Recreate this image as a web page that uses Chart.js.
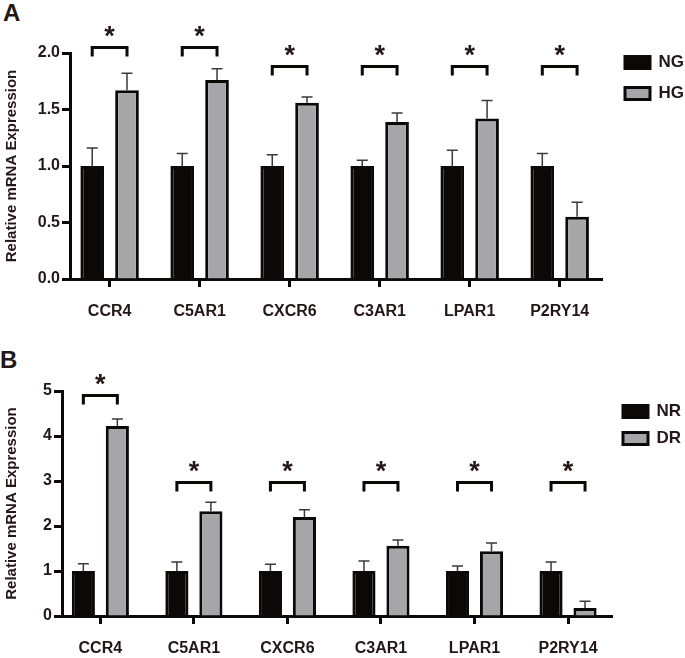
<!DOCTYPE html>
<html>
<head>
<meta charset="utf-8">
<script src="https://cdn.jsdelivr.net/npm/chart.js@4.4.1/dist/chart.umd.min.js"></script>
<style>
  body { margin: 0; background: #fff; }
  #wrap { position: relative; width: 685px; height: 658px; }
  canvas { position: absolute; left: 0; }
  .panel { position: absolute; font: bold 24px 'Liberation Sans', Arial, sans-serif; color: #231815; }
</style>
</head>
<body>
<div id="wrap">
  <div class="panel" style="left:3px;top:-1px;">A</div>
  <div class="panel" style="left:0px;top:346px;">B</div>
  <canvas id="chartA" width="685" height="325" style="top:0"></canvas>
  <canvas id="chartB" width="685" height="333" style="top:325px"></canvas>
</div>
<script>
// data
var genes = ['CCR4', 'C5AR1', 'CXCR6', 'C3AR1', 'LPAR1', 'P2RY14'];

var ngMean = [1, 1, 1, 1, 1, 1];
var ngErr = [0.16, 0.11, 0.10, 0.05, 0.14, 0.11];
var hgMean = [1.67, 1.76, 1.56, 1.39, 1.42, 0.55];
var hgErr = [0.15, 0.10, 0.05, 0.08, 0.16, 0.13];
var sigA = [2.05, 2.05, 1.885, 1.885, 1.885, 1.885];
var yTicksA = [0, 0.5, 1.0, 1.5, 2.0];

var nrMean = [1, 1, 1, 1, 1, 1];
var nrErr = [0.16, 0.20, 0.15, 0.22, 0.11, 0.20];
var drMean = [4.22, 2.33, 2.20, 1.56, 1.44, 0.18];
var drErr = [0.16, 0.20, 0.16, 0.13, 0.18, 0.15];
var sigB = [4.91, 2.98, 2.98, 2.98, 2.98, 2.98];
var yTicksB = [0, 1, 2, 3, 4, 5];

var ink = '#231815';
var barBlack = '#0d0808';
var barGray = '#a6a6aa';
var sans = "'Liberation Sans', Arial, sans-serif";

function pts(vals) {
    return vals.map(function(v, i) { return {x: i, y: v}; });
}

// error bars (upward only), significance brackets, legend placement
var extrasPlugin = {
    id: 'extras',
    afterLayout: function(chart) {
        var o = chart.options.plugins.extras;
        var lg = chart.legend;
        var pad = chart.options.plugins.legend.labels.padding;
        var dx = o.legendX - (lg.left + pad);
        var dy = o.legendY - (lg.top + pad);
        lg.left += dx; lg.right += dx;
        lg.top += dy; lg.bottom += dy;
    },
    afterDatasetsDraw: function(chart) {
        var o = chart.options.plugins.extras;
        var ctx = chart.ctx;
        var y = chart.scales.y;
        ctx.save();
        ctx.strokeStyle = '#3a3a3a';
        ctx.lineWidth = 1.5;
        chart.data.datasets.forEach(function(ds, di) {
            var meta = chart.getDatasetMeta(di);
            meta.data.forEach(function(bar, i) {
                var v = ds.data[i].y;
                var top = y.getPixelForValue(v + ds.err[i]);
                ctx.beginPath();
                ctx.moveTo(bar.x, bar.y);
                ctx.lineTo(bar.x, top);
                ctx.moveTo(bar.x - 5.5, top);
                ctx.lineTo(bar.x + 5.5, top);
                ctx.stroke();
            });
        });
        var m0 = chart.getDatasetMeta(0), m1 = chart.getDatasetMeta(1);
        ctx.strokeStyle = barBlack;
        ctx.lineWidth = 3;
        ctx.fillStyle = ink;
        ctx.font = 'bold 27px ' + sans;
        ctx.textAlign = 'center';
        ctx.textBaseline = 'middle';
        o.sig.forEach(function(s, i) {
            var x0 = m0.data[i].x, x1 = m1.data[i].x;
            var py = Math.round(y.getPixelForValue(s)) + 0.5;
            ctx.beginPath();
            ctx.moveTo(x0, py + 9);
            ctx.lineTo(x0, py);
            ctx.lineTo(x1, py);
            ctx.lineTo(x1, py + 9);
            ctx.stroke();
            ctx.fillText('*', (x0 + x1) / 2, py - 10);
        });
        ctx.restore();
    }
};

function makeChart(id, names, meanA, errA, meanB, errB, sig, yTicks, yMax, fmt, xMin, xMax, cfg) {
    var ctx = document.getElementById(id).getContext('2d');
    return new Chart(ctx, {
        type: 'bar',
        data: {
            datasets: [{
                label: names[0],
                data: pts(meanA),
                err: errA,
                backgroundColor: barBlack,
                borderColor: barBlack,
                borderWidth: 3
            }, {
                label: names[1],
                data: pts(meanB),
                err: errB,
                backgroundColor: barGray,
                borderColor: barBlack,
                borderWidth: 3
            }]
        },
        options: {
            responsive: false,
            animation: false,
            categoryPercentage: cfg.cat,
            barPercentage: cfg.bar,
            layout: { padding: { top: cfg.top, right: 0, left: 0, bottom: 0 } },
            plugins: {
                tooltip: { enabled: false },
                legend: {
                    position: 'right',
                    align: 'start',
                    maxWidth: cfg.legendW,
                    labels: {
                        boxWidth: 25,
                        boxHeight: 12,
                        padding: cfg.legendGap,
                        color: ink,
                        font: { family: sans, size: 17, weight: 'bold' }
                    }
                },
                extras: { sig: sig, legendX: cfg.legendX, legendY: cfg.legendY }
            },
            scales: {
                x: {
                    type: 'linear',
                    min: xMin,
                    max: xMax,
                    offset: false,
                    afterFit: function(s) { s.height = cfg.xh; },
                    afterBuildTicks: function(s) {
                        s.ticks = genes.map(function(g, i) { return {value: i}; });
                    },
                    border: { width: 3, color: barBlack },
                    grid: { offset: false, drawOnChartArea: false, drawTicks: true, tickLength: 8, tickWidth: 3, tickColor: barBlack },
                    ticks: {
                        padding: 15,
                        color: ink,
                        font: { family: sans, size: 16, weight: 'bold' },
                        maxRotation: 0,
                        autoSkip: false,
                        callback: function(v) { return genes[v]; }
                    }
                },
                y: {
                    min: 0,
                    max: yMax,
                    afterFit: function(s) { s.width = cfg.yw; },
                    afterBuildTicks: function(s) {
                        s.ticks = yTicks.map(function(v) { return {value: v}; });
                    },
                    border: { width: 3, color: barBlack },
                    grid: { drawOnChartArea: false, drawTicks: true, tickLength: 8, tickWidth: 3, tickColor: barBlack },
                    ticks: {
                        padding: 2,
                        color: ink,
                        font: { family: sans, size: 16, weight: 'bold' },
                        callback: function(v) { return fmt(v); }
                    },
                    title: {
                        display: true,
                        text: 'Relative mRNA Expression',
                        color: ink,
                        padding: { top: 3, bottom: 0 },
                        font: { family: sans, size: 15, weight: 'bold' }
                    }
                }
            }
        },
        plugins: [extrasPlugin]
    });
}

makeChart('chartA', ['NG', 'HG'], ngMean, ngErr, hgMean, hgErr, sigA, yTicksA, 2,
    function(v) { return v.toFixed(1); }, -0.44, 5.47,
    { cat: 0.773, bar: 0.68, top: 53, xh: 46, yw: 70, legendW: 95, legendGap: 14, legendX: 625, legendY: 54 });

makeChart('chartB', ['NR', 'DR'], nrMean, nrErr, drMean, drErr, sigB, yTicksB, 5,
    function(v) { return String(v); }, -0.41, 5.47,
    { cat: 0.727, bar: 0.68, top: 66, xh: 42, yw: 62, legendW: 73, legendGap: 10, legendX: 623, legendY: 78 });
</script>
</body>
</html>
